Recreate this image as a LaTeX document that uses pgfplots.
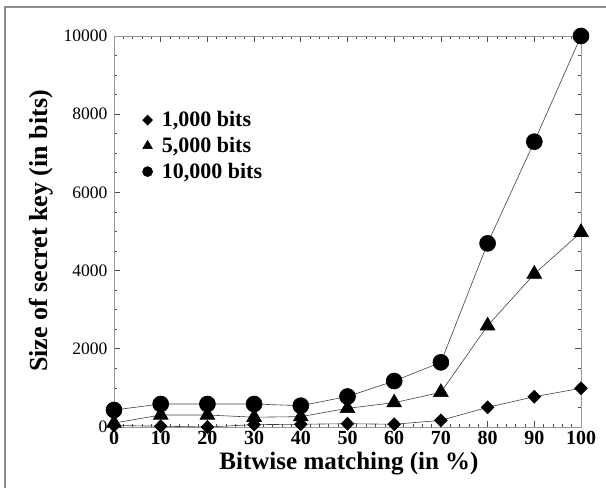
\documentclass[border=0pt]{standalone}
\usepackage{fontspec}
\setmainfont{Liberation Serif}
\usepackage{pgfplots}
\pgfplotsset{compat=1.18}
\pgfplotsset{
  legmark/.style={legend image code/.code={\draw[##1, only marks, mark size=#1] plot coordinates {(0pt,0pt)}; \path (-6pt,0pt) (12pt,0pt);}}
}
\begin{document}
\begin{tikzpicture}[x=1pt,y=1pt]
\useasboundingbox (0,0) rectangle (606,488);
\draw[black!45, line width=1.6pt] (5,0) -- (5,481) -- (606,481);
\begin{axis}[
  at={(114pt,61pt)}, anchor=south west,
  scale only axis, width=467pt, height=391pt,
  xmin=0, xmax=100, ymin=0, ymax=10000,
  xtick={0,10,...,100}, ytick={0,2000,...,10000},
  minor x tick num=4, minor y tick num=3,
  scaled y ticks=false,
  tick align=inside,
  xtick pos=both, ytick pos=both,
  major tick length=6pt, minor tick length=3pt,
  axis line style={black!40, line width=0.8pt},
  every tick/.style={black!70, line width=0.7pt},
  /pgf/number format/assume math mode=true,
  /pgf/number format/set thousands separator={},
  xticklabel style={font=\bfseries\fontsize{20}{20}\selectfont, yshift=-1pt},
  yticklabel style={font=\fontsize{17.5}{17.5}\selectfont, xshift=-3pt},
  legend style={at={(rel axis cs:0.058,0.812)}, anchor=north west, draw=none, fill=none,
    font=\bfseries\fontsize{22}{22}\selectfont, row sep=5pt, inner sep=0pt,
    nodes={inner sep=2pt}},
  legend cell align=left,
]
\addplot[black!75, line width=0.6pt, mark=diamond*, mark size=6.5pt, mark options={fill=black, draw=black, xscale=1.3}, legmark=5pt]
  coordinates {(0,40) (10,20) (20,0) (30,60) (40,70) (50,85) (60,70) (70,170) (80,503) (90,775) (100,990)};
\addlegendentry{1,000 bits}
\addplot[black!75, line width=0.6pt, mark=triangle*, mark size=8.5pt, mark options={fill=black, draw=black}, legmark=5.5pt]
  coordinates {(0,100) (10,307) (20,307) (30,250) (40,265) (50,477) (60,622) (70,887) (80,2590) (90,3913) (100,4980)};
\addlegendentry{5,000 bits}
\addplot[black!75, line width=0.6pt, mark=*, mark size=8pt, mark options={fill=black, draw=black}, legmark=5pt]
  coordinates {(0,435) (10,588) (20,588) (30,588) (40,545) (50,780) (60,1176) (70,1654) (80,4697) (90,7297) (100,10000)};
\addlegendentry{10,000 bits}
\end{axis}
\node[anchor=base, font=\bfseries\fontsize{25}{25}\selectfont] at (349,18) {Bitwise matching (in \%)};
\node[anchor=base, rotate=90, font=\bfseries\fontsize{26}{26}\selectfont] at (47,257) {Size of secret key (in bits)};
\end{tikzpicture}
\end{document}
